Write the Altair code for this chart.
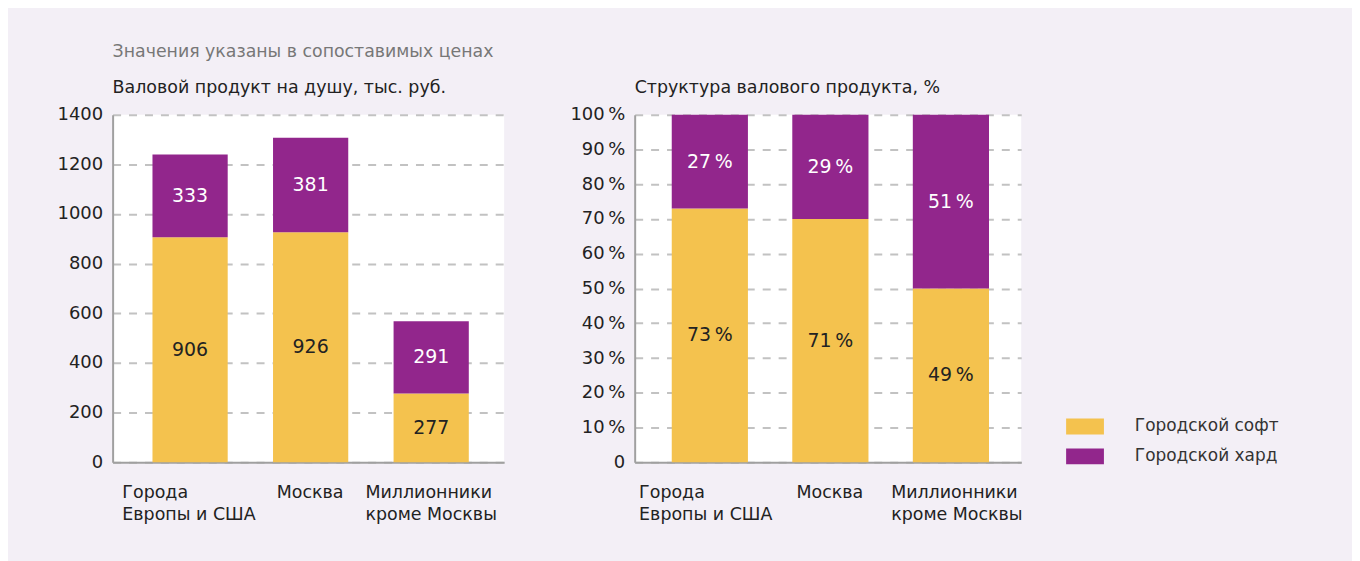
import altair as alt
import pandas as pd

# ---------------- data ----------------
categories = ["Города\nЕвропы и США", "Москва", "Миллионники\nкроме Москвы"]
series = ["Городской софт", "Городской хард"]

soft_values = [906, 926, 277]
hard_values = [333, 381, 291]

soft_share = [73, 70, 50]
hard_share = [27, 30, 50]
soft_share_text = ["73\u2009%", "71\u2009%", "49\u2009%"]
hard_share_text = ["27\u2009%", "29\u2009%", "51\u2009%"]

left_ticks = [0, 200, 400, 600, 800, 1000, 1200, 1400]
right_ticks = [0, 10, 20, 30, 40, 50, 60, 70, 80, 90, 100]

note_text = "Значения указаны в сопоставимых ценах"
left_title = "Валовой продукт на душу, тыс. руб."
right_title = "Структура валового продукта, %"

palette = ["#F4C24E", "#92268C"]

FONT = "DejaVu Sans"
TEXT = "#222222"


def make_df(soft, hard, soft_lab, hard_lab):
    rows = []
    for i, c in enumerate(categories):
        rows.append({"cat": c, "series": series[0], "value": soft[i], "label": soft_lab[i], "ord": 0})
        rows.append({"cat": c, "series": series[1], "value": hard[i], "label": hard_lab[i], "ord": 1})
    return pd.DataFrame(rows)


left_df = make_df(soft_values, hard_values, [str(v) for v in soft_values], [str(v) for v in hard_values])
right_df = make_df(soft_share, hard_share, soft_share_text, hard_share_text)


def panel(df, ticks, dmax, width, height, p_in, p_out, align, offs,
          ylabel_expr, title, subtitle, legend):
    base = alt.Chart(df).transform_stack(
        stack="value", groupby=["cat"], as_=["v0", "v1"],
        sort=[alt.SortField("ord", order="ascending")],
    ).transform_calculate(mid="(datum.v0 + datum.v1) / 2")

    xaxis = alt.Axis(
        labelExpr="split(datum.label, '\\n')",
        labelAlign="left",
        labelOffset={"condition": [
            {"test": f"datum.value == '{categories[0]}'".replace("\n", "\\n"), "value": offs[0]},
            {"test": f"datum.value == '{categories[1]}'", "value": offs[1]},
        ], "value": offs[2]},
        labelBaseline="top", labelPadding=21, labelLineHeight=22,
        labelFontSize=17.5, labelColor=TEXT, labelAngle=0, labelOverlap=False,
        ticks=False, domainColor="#a0a0a0", domainWidth=2, grid=False,
    )
    xscale = alt.Scale(paddingInner=p_in, paddingOuter=p_out, align=align)
    x = alt.X("cat:N", sort=categories, title=None, scale=xscale, axis=xaxis)

    yaxis = dict(values=ticks, grid=True, gridDash=[8, 8], gridColor="#c2c2c2", gridWidth=2,
                 ticks=False, domainColor="#a0a0a0", domainWidth=2, labelPadding=10,
                 labelFontSize=18, labelColor=TEXT, labelOverlap=False, format="d")
    if ylabel_expr:
        yaxis["labelExpr"] = ylabel_expr
    yscale = alt.Scale(domain=[0, dmax], nice=False)
    y = alt.Y("v0:Q", title=None, scale=yscale, axis=alt.Axis(**yaxis))

    bars = base.mark_bar().encode(
        x=x, y=y, y2="v1:Q",
        color=alt.Color("series:N", scale=alt.Scale(domain=series, range=palette), legend=legend),
    )
    labels = base.mark_text(fontSize=19, font=FONT).encode(
        x=alt.X("cat:N", sort=categories, title=None, scale=xscale, axis=xaxis),
        y=alt.Y("mid:Q", title=None, scale=yscale, axis=alt.Axis(**yaxis)),
        text="label:N",
        color=alt.condition("datum.ord == 1", alt.value("white"), alt.value(TEXT)),
    )
    return alt.layer(bars, labels).properties(
        width=width, height=height,
        title=alt.TitleParams(
            text=title, subtitle=subtitle, anchor="start", frame="group",
            font=FONT, fontSize=17.4, fontWeight="normal", color="#777777",
            subtitleFont=FONT, subtitleFontSize=17.5, subtitleColor=TEXT,
            subtitlePadding=19, offset=9,
        ),
    )


left = panel(left_df, left_ticks, 1400, 393, 349, 0.376, 0.312, 0.53, [-68, -34, -66],
             None, note_text, left_title, None)

legend = alt.Legend(
    title=None, orient="none", legendX=433, legendY=298,
    symbolType="M-1,-0.421H1V0.421H-1Z", symbolSize=1444, symbolStrokeWidth=0,
    symbolOpacity=1, labelFontSize=17, labelFont=FONT, labelColor="#333333",
    labelOffset=31, rowPadding=0, clipHeight=30,
)
right = panel(right_df, right_ticks, 100, 388, 349, 0.368, 0.2875, 0.535, [-71, -34, -60],
              "datum.value == 0 ? '0' : datum.value + '\u2009%'", " ", right_title, legend)

chart = alt.hconcat(left, right, spacing=65).resolve_scale(color="independent").configure(
    background="#F3EFF6", font=FONT,
    padding={"left": 49, "top": 34, "right": 73, "bottom": 37},
).configure_view(fill="white", stroke=None)

chart.save("out.html", embed_options={"renderer": "svg", "actions": False})
